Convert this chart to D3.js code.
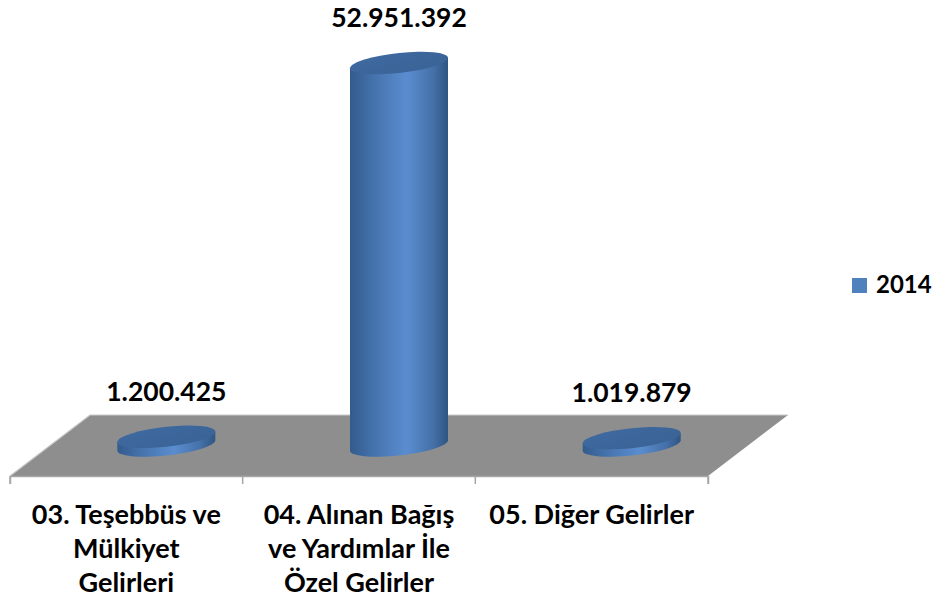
<!DOCTYPE html>
<html>
<head>
<meta charset="utf-8">
<script src="https://cdn.jsdelivr.net/npm/d3@7"></script>
<style>
  body { margin: 0; background: #fff; }
  text { font-family: Lato, "Open Sans", sans-serif; font-weight: bold; fill: #000; }
</style>
</head>
<body>
<div class="chart"></div>
<script>
// data
const categories = ["03. Teşebbüs ve Mülkiyet Gelirleri", "04. Alınan Bağış ve Yardımlar İle Özel Gelirler", "05. Diğer Gelirler"];
const categoryLines = [
  ["03. Teşebbüs ve", "Mülkiyet", "Gelirleri"],
  ["04. Alınan Bağış", "ve Yardımlar İle", "Özel Gelirler"],
  ["05. Diğer Gelirler"]
];
const values2014 = [1200425, 52951392, 1019879];
const valueLabels = ["1.200.425", "52.951.392", "1.019.879"];
const seriesName = "2014";

/* dimensions */
const width = 938, height = 603;
const floorFront = 476;           // y of front edge of floor
const depthX = 80, depthY = -61;  // back edge offset
const rx = 49, ry = 10;

const svg = d3.select(".chart").append("svg")
  .attr("width", width)
  .attr("height", height);

const defs = svg.append("defs");
const sideGrad = defs.append("linearGradient").attr("id", "side");
sideGrad.append("stop").attr("offset", "0%").attr("stop-color", "#335b8c");
sideGrad.append("stop").attr("offset", "25%").attr("stop-color", "#4673ad");
sideGrad.append("stop").attr("offset", "58%").attr("stop-color", "#5a8dd0");
sideGrad.append("stop").attr("offset", "85%").attr("stop-color", "#4570a8");
sideGrad.append("stop").attr("offset", "100%").attr("stop-color", "#2f5582");

const topGrad = defs.append("linearGradient").attr("id", "top")
  .attr("x1", "0%").attr("y1", "0%").attr("x2", "100%").attr("y2", "100%");
topGrad.append("stop").attr("offset", "0%").attr("stop-color", "#3f6aa0");
topGrad.append("stop").attr("offset", "100%").attr("stop-color", "#3a6396");

/* scales */
const xScale = d3.scaleBand()
  .domain(categories)
  .range([10, 708])
  .padding(0);

const baseY = floorFront + depthY / 2;
const yScale = d3.scaleLinear()
  .domain([0, d3.max(values2014)])
  .range([0, baseY - 63]);

/* floor */
const floorPts = [
  [10, floorFront], [708, floorFront],
  [708 + depthX, floorFront + depthY], [10 + depthX, floorFront + depthY]
];
svg.append("path")
  .attr("d", "M" + floorPts.join("L") + "Z")
  .attr("fill", "#8e8e8e");
svg.append("path")
  .attr("d", `M10,${floorFront}L${10 + depthX},${floorFront + depthY}L${708 + depthX},${floorFront + depthY}`)
  .attr("fill", "none")
  .attr("stroke", "#c9c9c9")
  .attr("stroke-width", 1.2);

/* axis along front edge */
const xAxis = d3.axisBottom(xScale).tickSize(8).tickFormat("");
const axisG = svg.append("g")
  .attr("transform", `translate(0, ${floorFront})`)
  .call(xAxis);
axisG.select(".domain").attr("stroke", "#a6a6a6").attr("stroke-width", 1.5);
axisG.selectAll(".tick").remove();
// boundary ticks between bands
const bounds = categories.map(c => xScale(c)).concat([xScale.range()[1]]);
axisG.selectAll("line.bound")
  .data(bounds)
  .join("line")
  .attr("class", "bound")
  .attr("x1", d => d).attr("x2", d => d)
  .attr("y1", 0).attr("y2", 8)
  .attr("stroke", "#a6a6a6")
  .attr("stroke-width", 1.5);

/* cylinders */
const cyl = svg.selectAll("g.cyl")
  .data(values2014)
  .join("g")
  .attr("class", "cyl")
  .attr("transform", (d, i) => `translate(${xScale(categories[i]) + xScale.bandwidth() / 2 + depthX / 2}, 0) skewY(-6)`);

cyl.append("path")
  .attr("fill", "url(#side)")
  .attr("d", d => {
    const top = baseY - yScale(d);
    return `M${-rx},${top}L${-rx},${baseY}A${rx},${ry} 0 0 0 ${rx},${baseY}L${rx},${top}Z`;
  });

cyl.append("ellipse")
  .attr("cx", 0)
  .attr("cy", d => baseY - yScale(d))
  .attr("rx", rx)
  .attr("ry", ry)
  .attr("fill", "url(#top)");

/* value labels */
svg.selectAll("text.val")
  .data(values2014)
  .join("text")
  .attr("class", "val")
  .attr("x", (d, i) => xScale(categories[i]) + xScale.bandwidth() / 2 + depthX / 2)
  .attr("y", d => baseY - yScale(d) - 36)
  .attr("text-anchor", "middle")
  .style("font-size", "26.5px")
  .text((d, i) => valueLabels[i]);

/* category labels */
const catG = svg.selectAll("text.cat")
  .data(categories)
  .join("text")
  .attr("class", "cat")
  .attr("text-anchor", "middle")
  .style("font-size", "27px");
catG.selectAll("tspan")
  .data((d, i) => categoryLines[i].map(l => ({ l, x: xScale(d) + xScale.bandwidth() / 2 })))
  .join("tspan")
  .attr("x", d => d.x)
  .attr("y", (d, j) => 524 + j * 34)
  .text(d => d.l);

/* legend */
const legend = svg.append("g").attr("transform", "translate(852, 278)");
legend.append("rect")
  .attr("width", 15).attr("height", 15)
  .attr("fill", "#4f81bd");
legend.append("text")
  .attr("x", 24).attr("y", 15)
  .style("font-size", "24px")
  .text(seriesName);
</script>
</body>
</html>
